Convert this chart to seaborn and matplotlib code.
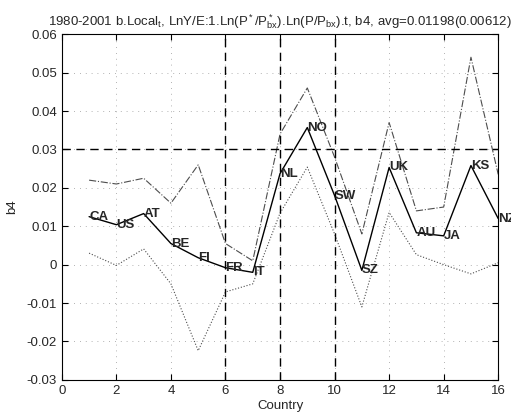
import numpy as np
import pandas as pd
import matplotlib
matplotlib.use('Agg')
import matplotlib.pyplot as plt
import seaborn as sns

# data
country = ['CA', 'US', 'AT', 'BE', 'FI', 'FR', 'IT', 'NL', 'NO', 'SW', 'SZ', 'UK', 'AU', 'JA', 'KS', 'NZ']
idx = list(range(1, 17))
b4 = [0.0125, 0.0104, 0.0133, 0.0055, 0.0018, -0.0008, -0.0020, 0.0237,
      0.0357, 0.0180, -0.0015, 0.0253, 0.0083, 0.0075, 0.0258, 0.0120]
b4_hi = [0.0220, 0.0210, 0.0225, 0.0160, 0.0260, 0.0055, 0.0010, 0.0340,
         0.0460, 0.0280, 0.0080, 0.0370, 0.0140, 0.0150, 0.0540, 0.0235]
b4_lo = [0.0030, -0.0002, 0.0041, -0.0050, -0.0224, -0.0071, -0.0050, 0.0134,
         0.0254, 0.0080, -0.0110, 0.0136, 0.0026, 0.0000, -0.0024, 0.0005]
vlines = [6, 8, 10]
hline = 0.03

df = pd.DataFrame({'idx': idx, 'b4': b4, 'hi': b4_hi, 'lo': b4_lo, 'country': country})

sns.set_style('white')
plt.rcParams['font.family'] = ['Liberation Sans', 'DejaVu Sans']
plt.rcParams['mathtext.fontset'] = 'custom'
plt.rcParams['mathtext.rm'] = 'Liberation Sans'
plt.rcParams['mathtext.it'] = 'Liberation Sans'

fig = plt.figure(figsize=(5.11, 4.17), dpi=100)
ax = fig.add_axes([0.121, 0.089, 0.854, 0.829])

# faint dotted grid like the old matlab print
ax.grid(True, linestyle=(0, (1, 6)), color='0.6', linewidth=0.6)

sns.lineplot(data=df, x='idx', y='hi', ax=ax, color='0.3', linewidth=0.8, linestyle='-.')
sns.lineplot(data=df, x='idx', y='lo', ax=ax, color='0.3', linewidth=0.8, linestyle=':')
sns.lineplot(data=df, x='idx', y='b4', ax=ax, color='black', linewidth=1.0)

for xv in vlines:
    ax.axvline(xv, color='black', linestyle=(0, (6, 4)), linewidth=1.0)
ax.axhline(hline, color='black', linestyle=(0, (6, 4)), linewidth=1.0)

for _, r in df.iterrows():
    ax.text(r['idx'], r['b4'], r['country'], fontsize=9.5, fontweight='bold',
            ha='left', va='center', clip_on=False)

ax.set_xlim(0, 16)
ax.set_ylim(-0.03, 0.06)
ax.set_xticks(range(0, 17, 2))
ax.set_yticks(np.arange(-0.03, 0.0601, 0.01))
ax.set_yticklabels(['-0.03', '-0.02', '-0.01', '0', '0.01', '0.02', '0.03', '0.04', '0.05', '0.06'])
ax.tick_params(direction='in', length=4, labelsize=9.5, top=True, right=True,
               bottom=True, left=True, color='black')
for s in ax.spines.values():
    s.set_color('black')
    s.set_linewidth(0.8)

ax.set_xlabel('Country', fontsize=9.5, labelpad=2)
ax.set_ylabel('b4', fontsize=9.5, labelpad=6)
ax.set_title(r'1980-2001 b.Local$_t$, LnY/E:1.Ln(P$^*$/P$^*_{bx}$).Ln(P/P$_{bx}$).t, b4, avg=0.01198(0.00612)',
             fontsize=9.5, pad=6)

fig.savefig('out.png', dpi=100)
